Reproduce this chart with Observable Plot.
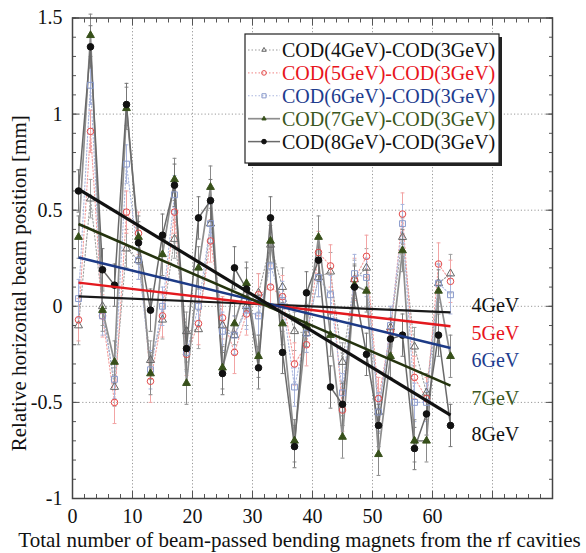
<!DOCTYPE html>
<html>
<head>
<meta charset="utf-8">
<script src="https://cdn.jsdelivr.net/npm/d3@7"></script>
<script src="https://cdn.jsdelivr.net/npm/@observablehq/plot@0.6"></script>
<style>
  body { margin: 0; background: #fff; }
  #chart { position: relative; width: 586px; height: 553px; }
</style>
</head>
<body>
<div id="chart"></div>
<script>
// ---- Data ----
const xs = [1, 3, 5, 7, 9, 11, 13, 15, 17, 19, 21, 23, 25, 27, 29, 31,
            33, 35, 37, 39, 41, 43, 45, 47, 49, 51, 53, 55, 57, 59, 61, 63];

const cod4 = [-0.10, 0.56, 0.00, -0.42, 0.30, 0.24, -0.28, -0.07, 0.35, -0.13, -0.12, 0.43, -0.10, -0.15, 0.00, 0.07,
               0.32, 0.10, -0.13, -0.14, 0.15, 0.18, -0.29, 0.14, 0.20, -0.55, -0.11, 0.36, -0.21, -0.45, 0.12, 0.17];
const cod5 = [-0.07, 0.91, -0.05, -0.50, 0.49, 0.38, -0.39, -0.05, 0.49, -0.25, -0.09, 0.34, -0.06, -0.24, -0.04, 0.06,
               0.10, 0.05, -0.30, -0.20, 0.28, 0.21, -0.54, 0.14, 0.26, -0.48, -0.13, 0.48, -0.37, -0.48, 0.22, 0.13];
const cod6 = [0.04, 1.15, -0.05, -0.38, 0.74, 0.24, -0.33, 0.00, 0.58, -0.24, 0.00, 0.43, -0.13, -0.15, -0.02, -0.05,
               0.21, 0.03, -0.42, -0.14, 0.15, 0.06, -0.45, 0.17, 0.15, -0.55, -0.10, 0.43, -0.50, -0.50, 0.12, 0.06];
const cod7 = [0.36, 1.41, -0.02, -0.29, 1.03, 0.36, -0.35, 0.27, 0.66, -0.40, 0.20, 0.62, -0.32, -0.09, 0.12, -0.26,
               0.34, -0.09, -0.70, -0.10, 0.36, -0.15, -0.68, 0.11, 0.08, -0.77, -0.26, 0.29, -0.70, -0.70, 0.08, -0.26];
const cod8 = [0.60, 1.35, 0.19, 0.11, 1.05, 0.33, -0.02, 0.37, 0.63, -0.22, 0.46, 0.55, -0.35, 0.20, 0.09, -0.32,
               0.46, -0.24, -0.73, 0.07, 0.24, -0.42, -0.51, 0.10, -0.25, -0.62, -0.17, -0.15, -0.74, -0.56, -0.15, -0.62];

const errs = [0.10, 0.11, 0.10, 0.11, 0.11];           // error bar half-widths per series
const legendNames = ["COD(4GeV)-COD(3GeV)", "COD(5GeV)-COD(3GeV)", "COD(6GeV)-COD(3GeV)",
                     "COD(7GeV)-COD(3GeV)", "COD(8GeV)-COD(3GeV)"];
const energies = ["4GeV", "5GeV", "6GeV", "7GeV", "8GeV"];

// linear fits: value at x = fitX[0] and x = fitX[1]
const fitX = [1, 63];
const fitStart = [0.052, 0.123, 0.254, 0.428, 0.610];
const fitEnd = [-0.032, -0.104, -0.217, -0.413, -0.566];

// end labels (data coordinates)
const endLabelX = 66.5;
const endLabelY = [0.005, -0.14, -0.285, -0.48, -0.67];

const xTickLabels = [0, 10, 20, 30, 40, 50, 60];
const yTickLabels = [-1, -0.5, 0, 0.5, 1, 1.5];
const xGrid = [10, 20, 30, 40, 50, 60, 70];
const yGrid = [-0.5, 0, 0.5, 1];

const xTitle = "Total number of beam-passed bending magnets from the rf cavities";
const yTitle = "Relative horizontal beam position [mm]";

// ---- Styles ----
const serif = "'Liberation Serif', 'Times New Roman', serif";
const styles = [
  {line: "#9c9c9c", dash: "1.5,2", lw: 1.1, bar: "#a0a0a0", sym: "triangle", fill: "none", mark: "#666", r: 3.0, text: "#111", fit: "#1a1a1a", fw: 2.2},
  {line: "#f39c9c", dash: "1.5,2", lw: 1.1, bar: "#f2a4a4", sym: "circle", fill: "none", mark: "#e34a4a", r: 3.3, text: "#e8141c", fit: "#e3191e", fw: 2.4},
  {line: "#aab6de", dash: "1.5,2", lw: 1.1, bar: "#a8b4dc", sym: "square", fill: "none", mark: "#8a9acb", r: 3.3, text: "#1e3c8e", fit: "#1d3a86", fw: 2.4},
  {line: "#8e8e8e", dash: null, lw: 1.7, bar: "#8a8a8a", sym: "triangle", fill: "#37501a", mark: "#37501a", r: 2.9, text: "#3a5620", fit: "#24330e", fw: 2.6},
  {line: "#6a6a6a", dash: null, lw: 1.5, bar: "#777", sym: "circle", fill: "#111", mark: "#111", r: 3.3, text: "#111", fit: "#111", fw: 3.2}
];

const seriesValues = [cod4, cod5, cod6, cod7, cod8];
const rowsFor = (k) => xs.map((x, i) => ({x, y: seriesValues[k][i], err: errs[k]}));

const capSymbol = {
  draw(context, size) {
    const w = Math.sqrt(size) / 2;
    context.moveTo(-w, 0);
    context.lineTo(w, 0);
  }
};

const marks = [];
// grid
marks.push(Plot.gridX(xGrid, {stroke: "#999", strokeOpacity: 1, strokeDasharray: "1.2,2.2", strokeWidth: 1}));
marks.push(Plot.gridY(yGrid, {stroke: "#999", strokeOpacity: 1, strokeDasharray: "1.2,2.2", strokeWidth: 1}));

// inward frame ticks (no labels)
const minorX = d3.range(0, 81, 2);
const minorY = d3.range(-1, 1.501, 0.1).map(v => +v.toFixed(2));
const majorX = d3.range(0, 81, 10);
const majorY = d3.range(-1, 1.501, 0.5).map(v => +v.toFixed(2));
const tickCommon = {text: null, tickFormat: null, label: null, stroke: "#555"};
marks.push(Plot.axisX(minorX, {...tickCommon, anchor: "bottom", tickSize: 4, dy: -4}));
marks.push(Plot.axisX(minorX, {...tickCommon, anchor: "top", tickSize: 4, dy: 4}));
marks.push(Plot.axisY(minorY, {...tickCommon, anchor: "left", tickSize: 4, dx: 4}));
marks.push(Plot.axisY(minorY, {...tickCommon, anchor: "right", tickSize: 4, dx: -4}));
marks.push(Plot.axisX(majorX, {...tickCommon, anchor: "bottom", tickSize: 7, dy: -7}));
marks.push(Plot.axisX(majorX, {...tickCommon, anchor: "top", tickSize: 7, dy: 7}));
marks.push(Plot.axisY(majorY, {...tickCommon, anchor: "left", tickSize: 7, dx: 7}));
marks.push(Plot.axisY(majorY, {...tickCommon, anchor: "right", tickSize: 7, dx: -7}));

// tick labels
marks.push(Plot.axisX(xTickLabels, {anchor: "bottom", tickSize: 0, tickPadding: 10, tickFormat: d => String(d), label: null, fontSize: 20, fill: "#111"}));
marks.push(Plot.axisY(yTickLabels, {anchor: "left", tickSize: 0, tickPadding: 10, tickFormat: d => String(d), label: null, fontSize: 20, fill: "#111"}));

// dotted lines (4,5,6 GeV)
[0, 1, 2].forEach(k => {
  const s = styles[k];
  marks.push(Plot.line(rowsFor(k), {x: "x", y: "y", stroke: s.line, strokeWidth: s.lw, strokeDasharray: s.dash}));
});
// error bars
[0, 1, 2, 3, 4].forEach(k => {
  const s = styles[k];
  const rows = rowsFor(k);
  marks.push(Plot.ruleX(rows, {x: "x", y1: d => d.y - d.err, y2: d => d.y + d.err, stroke: s.bar, strokeWidth: 1}));
  marks.push(Plot.dot(rows, {x: "x", y: d => d.y - d.err, symbol: capSymbol, r: 2.2, fill: "none", stroke: s.bar, strokeWidth: 1}));
  marks.push(Plot.dot(rows, {x: "x", y: d => d.y + d.err, symbol: capSymbol, r: 2.2, fill: "none", stroke: s.bar, strokeWidth: 1}));
});
// solid lines (7,8 GeV)
[3, 4].forEach(k => {
  const s = styles[k];
  marks.push(Plot.line(rowsFor(k), {x: "x", y: "y", stroke: s.line, strokeWidth: s.lw}));
});
// markers
[0, 1, 2, 3, 4].forEach(k => {
  const s = styles[k];
  marks.push(Plot.dot(rowsFor(k), {x: "x", y: "y", symbol: s.sym, r: s.r, fill: s.fill, stroke: s.mark, strokeWidth: 1}));
});
// fit lines
[0, 1, 2, 3, 4].forEach(k => {
  const s = styles[k];
  marks.push(Plot.link([{x1: fitX[0], y1: fitStart[k], x2: fitX[1], y2: fitEnd[k]}],
    {x1: "x1", y1: "y1", x2: "x2", y2: "y2", stroke: s.fit, strokeWidth: s.fw}));
});
// end labels
[0, 1, 2, 3, 4].forEach(k => {
  marks.push(Plot.text([energies[k]], {x: () => endLabelX, y: () => endLabelY[k], text: d => d,
    textAnchor: "start", fill: styles[k].text, fontSize: 20}));
});
// titles
marks.push(Plot.text([xTitle], {frameAnchor: "bottom", textAnchor: "middle", lineAnchor: "middle", dy: 42, dx: -13, fontSize: 21, fill: "#111"}));
marks.push(Plot.text([yTitle], {frameAnchor: "left", textAnchor: "middle", lineAnchor: "middle", dx: -53, dy: 25, rotate: -90, fontSize: 21, fill: "#111"}));
// frame
marks.push(Plot.frame({stroke: "#444", strokeWidth: 1.5}));

const chart = Plot.plot({
  width: 586,
  height: 553,
  marginLeft: 72,
  marginRight: 34,
  marginTop: 17.5,
  marginBottom: 55,
  x: {domain: [0, 80]},
  y: {domain: [-1, 1.5]},
  style: {fontFamily: serif, fontSize: "20px", background: "#fff", color: "#111"},
  marks
});

// ---- Legend box (inside plot) ----
const svg = d3.select(chart);
const lg = svg.append("g")
  .style("font-family", serif)
  .style("font-size", "20px")
  .attr("text-anchor", "start");
const bx = 245, by = 34, bw = 254, bh = 129;
lg.append("rect").attr("x", bx + 3).attr("y", by + 3).attr("width", bw).attr("height", bh).attr("fill", "#222");
lg.append("rect").attr("x", bx).attr("y", by).attr("width", bw).attr("height", bh)
  .attr("fill", "#fff").attr("stroke", "#222").attr("stroke-width", 1.2);
const symType = {triangle: d3.symbolTriangle2, circle: d3.symbolCircle, square: d3.symbolSquare};
legendNames.forEach((name, k) => {
  const s = styles[k];
  const cy = by + 16 + k * 22.9;
  lg.append("line").attr("x1", bx + 3).attr("x2", bx + 35).attr("y1", cy).attr("y2", cy)
    .attr("stroke", s.line).attr("stroke-width", s.lw).attr("stroke-dasharray", s.dash);
  lg.append("path").attr("transform", `translate(${bx + 19},${cy})`)
    .attr("d", d3.symbol(symType[s.sym], Math.PI * s.r * s.r * 0.5)())
    .attr("fill", s.fill).attr("stroke", s.mark).attr("stroke-width", 1);
  lg.append("text").attr("x", bx + 37).attr("y", cy).attr("dy", "0.35em")
    .attr("text-anchor", "start")
    .attr("fill", s.text).text(name);
});

document.getElementById("chart").appendChild(chart);
</script>
</body>
</html>
